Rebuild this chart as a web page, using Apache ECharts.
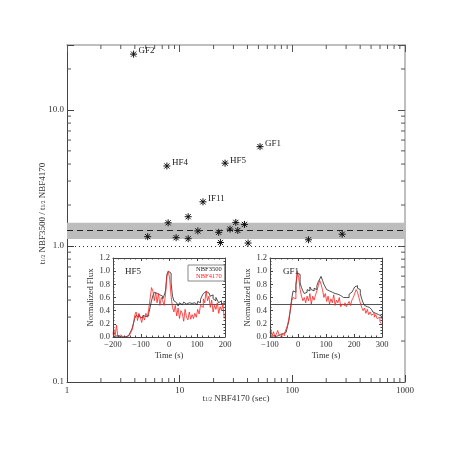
<!DOCTYPE html>
<html>
<head>
<meta charset="utf-8">
<script src="https://cdn.jsdelivr.net/npm/echarts@6.0.0/dist/echarts.min.js"></script>
<style>
html, body { margin: 0; padding: 0; background: #fff; }
#chart { width: 450px; height: 450px; }
</style>
</head>
<body>
<div id="chart"></div>
<script>
// main scatter: t1/2 in NBF4170 vs ratio of t1/2
const burstT = [3.9, 7.7, 25.3, 51.7, 16.1, 7.9, 11.9, 5.2, 9.3, 11.9, 14.5, 22.2, 23.0, 28.0, 31.5, 32.8, 37.6, 40.5, 139, 277];
const burstRatio = [25.7, 3.87, 4.06, 5.37, 2.11, 1.48, 1.64, 1.17, 1.15, 1.13, 1.29, 1.26, 1.06, 1.33, 1.49, 1.30, 1.44, 1.05, 1.11, 1.22];
const burstNames = ['GF2', 'HF4', 'HF5', 'GF1', 'IF11', '', '', '', '', '', '', '', '', '', '', '', '', '', '', ''];
const bandLow = 1.125;
const bandHigh = 1.48;
const meanRatio = 1.30;

// log-axis minor tick values
const xMinor = [2, 3, 4, 5, 6, 7, 8, 9, 20, 30, 40, 50, 60, 70, 80, 90, 200, 300, 400, 500, 600, 700, 800, 900];
const yMinor = [0.2, 0.3, 0.4, 0.5, 0.6, 0.7, 0.8, 0.9, 2, 3, 4, 5, 6, 7, 8, 9, 20];

// inset light curves
const timeHF5 = [-200,-195,-190,-185,-180,-175,-170,-165,-160,-155,-150,-145,-140,-135,-130,-125,-120,-115,-110,-105,-100,-95,-90,-85,-80,-75,-70,-65,-60,-55,-50,-45,-40,-35,-30,-25,-20,-15,-10,-5,0,5,10,15,20,25,30,35,40,45,50,55,60,65,70,75,80,85,90,95,100,105,110,115,120,125,130,135,140,145,150,155,160,165,170,175,180,185,190,195,200];
const hf5Blue = [0.00,0.01,0.00,0.02,0.00,0.01,0.00,0.01,0.00,0.02,0.01,0.03,
  0.04,0.08,0.12,0.20,0.28,0.33,0.30,0.34,0.30,0.29,0.33,0.31,0.34,0.32,0.36,0.45,0.55,0.63,
  0.68,0.66,0.69,0.64,0.67,0.62,0.58,0.63,0.70,0.95,1.00,0.97,0.82,0.62,0.55,0.52,0.50,0.47,0.52,0.49,
  0.46,0.53,0.50,0.48,0.52,0.49,0.51,0.48,0.52,0.50,0.49,0.54,0.52,0.57,0.62,0.66,0.69,0.70,0.67,0.68,
  0.62,0.64,0.58,0.55,0.60,0.56,0.52,0.55,0.50,0.52,0.49];
const hf5Red = [0.04,0.12,0.02,0.18,0.00,0.03,0.00,0.00,0.01,0.00,
  0.00,0.02,0.03,0.06,0.10,0.18,0.33,0.38,0.25,0.36,
  0.30,0.22,0.32,0.26,0.36,0.30,0.42,0.58,0.75,0.70,
  0.55,0.68,0.52,0.66,0.48,0.60,0.55,0.48,0.65,0.92,
  1.00,0.88,0.62,0.45,0.38,0.48,0.32,0.44,0.28,0.40,
  0.36,0.24,0.42,0.30,0.26,0.38,0.27,0.34,0.28,0.36,
  0.30,0.42,0.35,0.48,0.45,0.58,0.52,0.70,0.55,0.62,
  0.45,0.56,0.38,0.48,0.42,0.52,0.36,0.46,0.40,0.50,0.28];

const timeGF1 = [-100,-95,-90,-85,-80,-75,-70,-65,-60,-55,-50,-45,-40,-35,-30,-25,-20,-15,-10,-5,0,5,10,15,20,25,30,35,40,45,50,55,60,65,70,75,80,85,90,95,100,105,110,115,120,125,130,135,140,145,150,155,160,165,170,175,180,185,190,195,200,205,210,215,220,225,230,235,240,245,250,255,260,265,270,275,280,285,290,295,300];
const gf1Blue = [0.02,0.01,0.03,0.02,0.01,0.03,0.02,0.04,0.03,0.05,
  0.04,0.07,0.10,0.16,0.25,0.40,0.58,0.70,0.68,0.78,
  0.97,0.95,0.82,0.75,0.70,0.66,0.68,0.72,0.70,0.76,
  0.72,0.70,0.74,0.72,0.78,0.84,0.88,0.92,0.86,0.80,
  0.76,0.72,0.70,0.72,0.68,0.70,0.66,0.68,0.65,0.66,
  0.63,0.62,0.60,0.58,0.60,0.62,0.60,0.65,0.68,0.70,
  0.72,0.76,0.78,0.74,0.72,0.66,0.58,0.52,0.48,0.46,
  0.44,0.45,0.42,0.40,0.38,0.36,0.37,0.34,0.33,0.32,0.28];
const gf1Red = [0.06,0.12,0.02,0.08,0.00,0.04,0.10,0.03,0.00,0.05,
  0.02,0.06,0.12,0.18,0.28,0.42,0.55,0.60,0.58,0.80,
  1.00,0.90,0.72,0.62,0.55,0.60,0.52,0.62,0.55,0.66,
  0.50,0.62,0.56,0.64,0.70,0.78,0.86,0.80,0.72,0.60,
  0.66,0.54,0.62,0.50,0.58,0.52,0.64,0.48,0.56,0.52,
  0.60,0.46,0.50,0.48,0.52,0.46,0.50,0.54,0.48,0.56,
  0.60,0.66,0.72,0.68,0.60,0.52,0.45,0.40,0.44,0.36,
  0.42,0.34,0.38,0.33,0.36,0.30,0.34,0.28,0.30,0.24,0.20];
const fluxLevel = 0.5;

const serif = 'Liberation Serif';
const ink = '#333';

const pairs = (xs, ys) => xs.map((x, i) => [x, ys[i]]);
const isDecade = v => Math.abs(Math.log10(v) - Math.round(Math.log10(v))) < 1e-6;
const minus = v => String(v).replace('-', '\u2212');

const chart = echarts.init(document.getElementById('chart'));

const subRich = {
  s: { fontSize: 5.5, fontFamily: serif, color: ink, verticalAlign: 'bottom', padding: [3, 0, 0, 0] }
};

function insetX(grid, min, max, top) {
  return {
    type: 'value', gridIndex: grid, min: min, max: max, interval: 100,
    position: top ? 'top' : 'bottom',
    name: top ? '' : 'Time (s)', nameLocation: 'middle', nameGap: 14,
    nameTextStyle: { fontFamily: serif, fontSize: 8.5, color: ink },
    axisLine: { onZero: false, lineStyle: { color: '#444', width: 1 } },
    axisTick: { inside: true, length: 3, lineStyle: { color: '#444' } },
    minorTick: { show: true, splitNumber: 5, length: 1.5, lineStyle: { color: '#444' } },
    axisLabel: { show: !top, margin: 3, fontFamily: serif, fontSize: 8.5, color: ink, formatter: minus },
    splitLine: { show: false }, z: 6
  };
}
function insetY(grid, right) {
  return {
    type: 'value', gridIndex: grid, min: 0, max: 1.2, interval: 0.2,
    position: right ? 'right' : 'left',
    name: right ? '' : 'Normalized Flux', nameLocation: 'middle', nameGap: 17,
    nameTextStyle: { fontFamily: serif, fontSize: 8.5, color: ink },
    axisLine: { onZero: false, lineStyle: { color: '#444', width: 1 } },
    axisTick: { inside: true, length: 3, lineStyle: { color: '#444' } },
    minorTick: { show: true, splitNumber: 4, length: 1.5, lineStyle: { color: '#444' } },
    axisLabel: { show: !right, margin: 3, fontFamily: serif, fontSize: 8.5, color: ink, formatter: v => v.toFixed(1) },
    splitLine: { show: false }, z: 6
  };
}

function curve(name, xi, yi, times, vals, color, withLevel) {
  const s = {
    name: name, type: 'line', xAxisIndex: xi, yAxisIndex: yi,
    data: pairs(times, vals), step: 'middle', showSymbol: false, silent: true,
    lineStyle: { color: color, width: 0.8 }, itemStyle: { color: color }, z: 5
  };
  if (withLevel) {
    s.markLine = {
      silent: true, symbol: 'none', label: { show: false },
      lineStyle: { color: '#555', type: 'solid', width: 1 },
      data: [{ yAxis: fluxLevel }]
    };
  }
  return s;
}

const option = {
  animation: false,
  backgroundColor: '#fff',
  grid: [
    { left: 67, top: 45, width: 338, height: 337 },
    { left: 113, top: 258, width: 112, height: 79, show: true, backgroundColor: '#fff', borderWidth: 0, z: 4 },
    { left: 270, top: 258, width: 112, height: 79, show: true, backgroundColor: '#fff', borderWidth: 0, z: 4 }
  ],
  legend: {
    data: [
      { name: 'NBF3500', textStyle: { color: '#222' } },
      { name: 'NBF4170', textStyle: { color: '#ff2020' } }
    ],
    left: 188, top: 265, orient: 'vertical', icon: 'none', itemWidth: 0, itemHeight: 6, itemGap: 0,
    padding: [1, 3], borderColor: '#888', borderWidth: 1, backgroundColor: '#fff', selectedMode: false,
    textStyle: { fontFamily: serif, fontSize: 6.5, padding: 0 }, z: 10
  },
  xAxis: [
    {
      type: 'log', logBase: 10, min: 1, max: 1000, gridIndex: 0, position: 'bottom',
      name: 't{s|1/2} NBF4170 (sec)', nameLocation: 'middle', nameGap: 12, nameMoveOverlap: false,
      nameTextStyle: { fontFamily: serif, fontSize: 9, color: ink, rich: subRich },
      axisLine: { lineStyle: { color: '#444', width: 1 } },
      axisTick: { inside: true, length: 7, lineStyle: { color: '#444' } },
      axisLabel: { margin: 4, fontFamily: serif, fontSize: 9, color: ink, formatter: v => String(Math.round(v)) },
      splitLine: { show: false }
    },
    {
      type: 'log', logBase: 10, min: 1, max: 1000, gridIndex: 0, position: 'top',
      axisLine: { lineStyle: { color: '#aaa', width: 1.5 } },
      axisTick: { inside: true, length: 7, lineStyle: { color: '#555' } },
      axisLabel: { show: false }, splitLine: { show: false }
    },
    insetX(1, -200, 200, false), insetX(1, -200, 200, true),
    insetX(2, -100, 300, false), insetX(2, -100, 300, true)
  ],
  yAxis: [
    {
      type: 'log', logBase: 10, min: 0.1, max: 30, gridIndex: 0, position: 'left',
      name: 't{s|1/2} NBF3500 / t{s|1/2} NBF4170', nameLocation: 'middle', nameGap: 20, nameMoveOverlap: false,
      nameTextStyle: { fontFamily: serif, fontSize: 9, color: ink, rich: subRich },
      axisLine: { lineStyle: { color: '#444', width: 1 } },
      axisTick: { inside: true, length: 7, lineStyle: { color: '#444' } },
      axisLabel: { margin: 3, fontFamily: serif, fontSize: 9, color: ink,
        formatter: v => isDecade(v) ? (v < 1 ? '0.1' : v.toFixed(1)) : '' },
      splitLine: { show: false }
    },
    {
      type: 'log', logBase: 10, min: 0.1, max: 30, gridIndex: 0, position: 'right',
      axisLine: { lineStyle: { color: '#aaa', width: 1.5 } },
      axisTick: { inside: true, length: 7, lineStyle: { color: '#555' } },
      axisLabel: { show: false }, splitLine: { show: false }
    },
    insetY(1, false), insetY(1, true),
    insetY(2, false), insetY(2, true)
  ],
  graphic: [
    { type: 'text', left: 125, top: 267, z: 20, style: { text: 'HF5', font: '9px "Liberation Serif"', fill: '#222' } },
    { type: 'text', left: 283, top: 267, z: 20, style: { text: 'GF1', font: '9px "Liberation Serif"', fill: '#222' } }
  ],
  series: [
    {
      // band of mean ratio, its centre and the unity line
      type: 'line', xAxisIndex: 0, yAxisIndex: 0, data: [[1, 1], [1000, 1]],
      showSymbol: false, silent: true, lineStyle: { opacity: 0 }, z: 1,
      markArea: {
        silent: true, itemStyle: { color: '#bdbdbd' },
        data: [[{ yAxis: bandLow }, { yAxis: bandHigh }]]
      },
      markLine: {
        silent: true, symbol: 'none', label: { show: false },
        data: [
          { yAxis: meanRatio, lineStyle: { color: '#222', type: [6, 4], width: 1 } },
          { yAxis: 1, lineStyle: { color: '#333', type: [1, 3], width: 1 } }
        ]
      }
    },
    {
      type: 'custom', xAxisIndex: 0, yAxisIndex: 0, z: 2, silent: true,
      data: xMinor.map(v => [v, 1]),
      renderItem: (params, api) => {
        const v = api.value(0);
        const b = api.coord([v, 0.1]);
        const t = api.coord([v, 30]);
        const st = { stroke: '#555', lineWidth: 1 };
        return { type: 'group', children: [
          { type: 'line', shape: { x1: b[0], y1: b[1], x2: b[0], y2: b[1] - 4 }, style: st },
          { type: 'line', shape: { x1: t[0], y1: t[1], x2: t[0], y2: t[1] + 4 }, style: st }
        ] };
      }
    },
    {
      type: 'custom', xAxisIndex: 0, yAxisIndex: 0, z: 2, silent: true,
      data: yMinor.map(v => [1, v]),
      renderItem: (params, api) => {
        const v = api.value(1);
        const l = api.coord([1, v]);
        const r = api.coord([1000, v]);
        const st = { stroke: '#555', lineWidth: 1 };
        return { type: 'group', children: [
          { type: 'line', shape: { x1: l[0], y1: l[1], x2: l[0] + 4, y2: l[1] }, style: st },
          { type: 'line', shape: { x1: r[0], y1: r[1], x2: r[0] - 4, y2: r[1] }, style: st }
        ] };
      }
    },
    {
      // asterisk markers with burst names
      type: 'custom', xAxisIndex: 0, yAxisIndex: 0, z: 3, silent: true,
      data: pairs(burstT, burstRatio),
      renderItem: (params, api) => {
        const p = api.coord([api.value(0), api.value(1)]);
        const r = 3.5, d = 2.6;
        const st = { stroke: '#111', lineWidth: 1 };
        const children = [
          { type: 'line', shape: { x1: p[0], y1: p[1] - r, x2: p[0], y2: p[1] + r }, style: st },
          { type: 'line', shape: { x1: p[0] - r, y1: p[1], x2: p[0] + r, y2: p[1] }, style: st },
          { type: 'line', shape: { x1: p[0] - d, y1: p[1] - d, x2: p[0] + d, y2: p[1] + d }, style: st },
          { type: 'line', shape: { x1: p[0] - d, y1: p[1] + d, x2: p[0] + d, y2: p[1] - d }, style: st }
        ];
        const name = burstNames[params.dataIndex];
        if (name) {
          children.push({ type: 'text', x: p[0] + 5, y: p[1] - 3,
            style: { text: name, font: '9px "Liberation Serif"', fill: '#222', textVerticalAlign: 'middle', textAlign: 'left' } });
        }
        return { type: 'group', children: children };
      }
    },
    curve('NBF3500', 2, 2, timeHF5, hf5Blue, '#222', true),
    curve('NBF4170', 2, 2, timeHF5, hf5Red, '#ff2020', false),
    curve('NBF3500', 4, 4, timeGF1, gf1Blue, '#222', true),
    curve('NBF4170', 4, 4, timeGF1, gf1Red, '#ff2020', false)
  ]
};

chart.setOption(option);
</script>
</body>
</html>
